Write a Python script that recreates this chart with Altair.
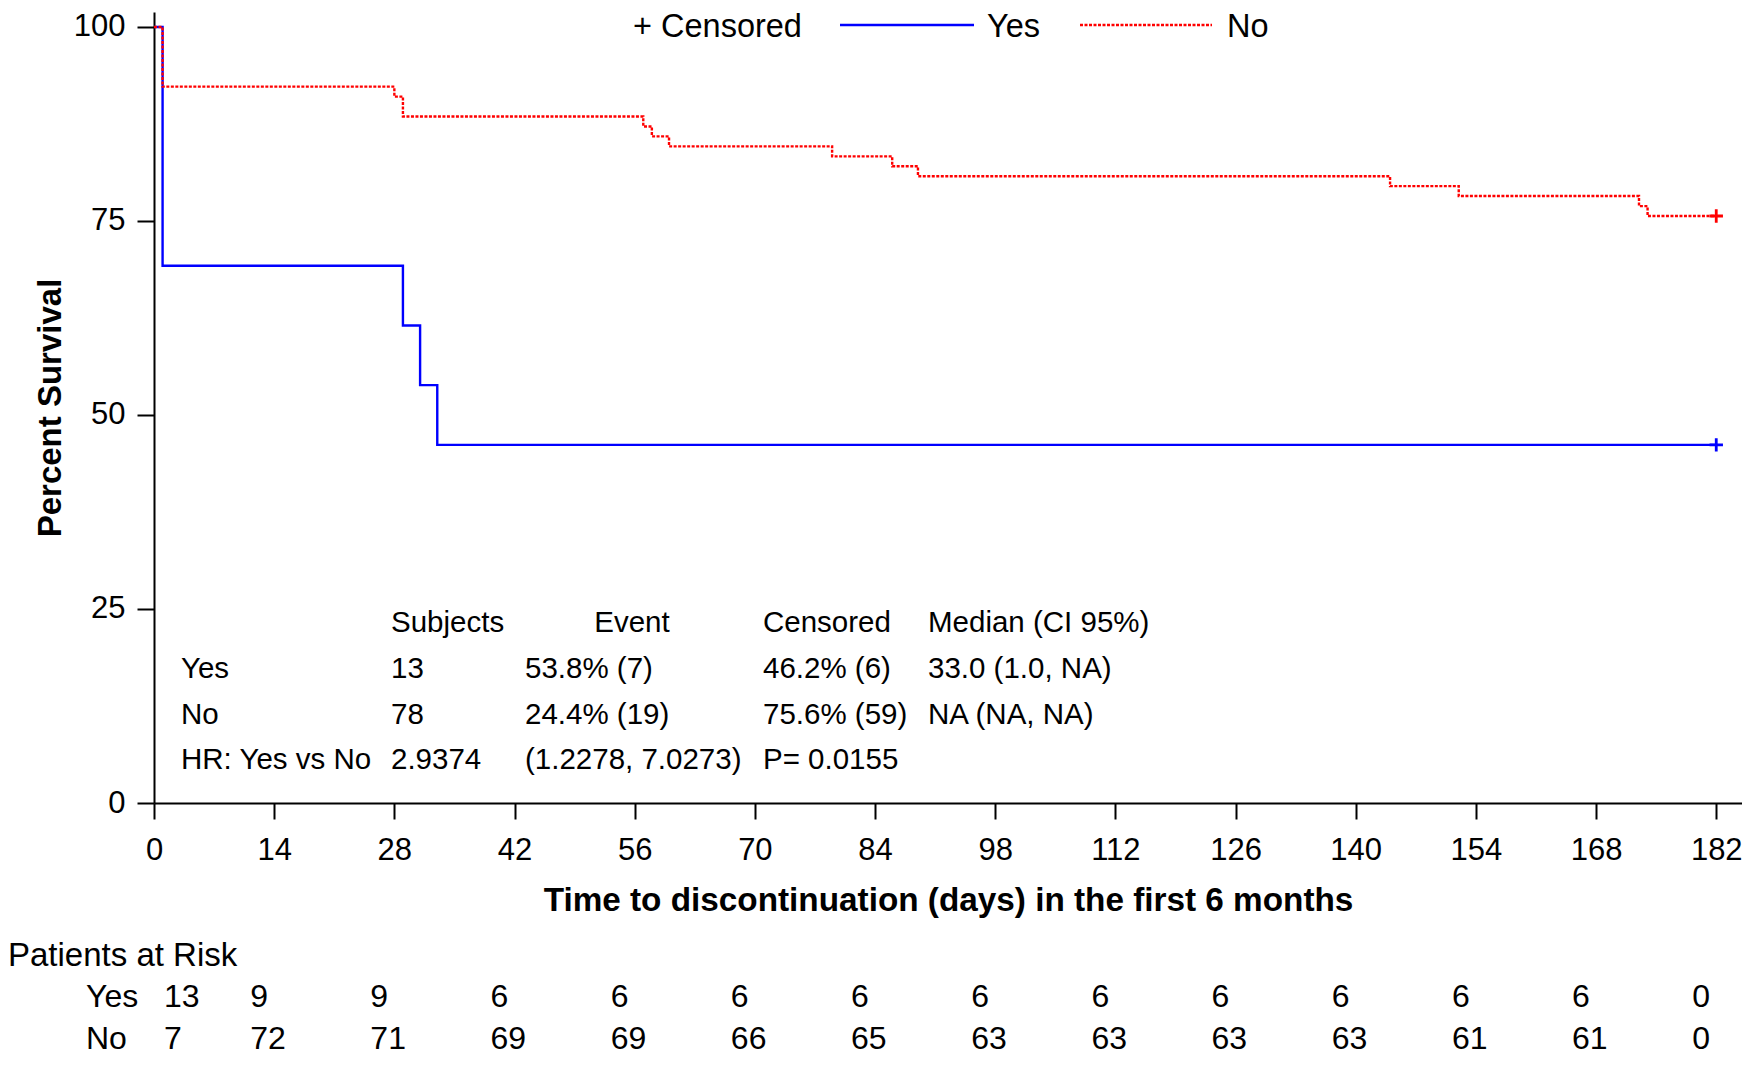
import altair as alt
import pandas as pd

FONT = "Liberation Sans"

# Kaplan-Meier step data
yes_time = [0, 1, 29, 31, 33, 182]
yes_surv = [100, 69.23, 61.54, 53.85, 46.15, 46.15]
no_time = [0, 1, 28, 29, 57, 58, 60, 79, 86, 89, 144, 152, 173, 174, 182]
no_surv = [100, 92.31, 91.03, 88.46, 87.18, 85.90, 84.62, 83.33, 82.05, 80.77,
           79.49, 78.21, 76.92, 75.64, 75.64]
censor_group = ["Yes", "No"]
censor_time = [182, 182]
censor_surv = [46.15, 75.64]

# Tick values / at-risk table
ticks = [0, 14, 28, 42, 56, 70, 84, 98, 112, 126, 140, 154, 168, 182]
risk_yes = [13, 9, 9, 6, 6, 6, 6, 6, 6, 6, 6, 6, 6, 0]
risk_no = [7, 72, 71, 69, 69, 66, 65, 63, 63, 63, 63, 61, 61, 0]

# Summary table text
stat_header = ["", "Subjects", "Event", "Censored", "Median (CI 95%)"]
stat_yes = ["Yes", "13", "53.8% (7)", "46.2% (6)", "33.0 (1.0, NA)"]
stat_no = ["No", "78", "24.4% (19)", "75.6% (59)", "NA (NA, NA)"]
stat_hr = ["HR: Yes vs No", "2.9374", "(1.2278, 7.0273)", "P= 0.0155", ""]

colors = {"Yes": "#0000FF", "No": "#FF0000"}

km = pd.concat([
    pd.DataFrame({"time": yes_time, "surv": yes_surv, "group": "Yes"}),
    pd.DataFrame({"time": no_time, "surv": no_surv, "group": "No"}),
])
cens = pd.DataFrame({"time": censor_time, "surv": censor_surv, "group": censor_group})

xscale = alt.Scale(domain=[0, 185], nice=False, zero=False)
yscale = alt.Scale(domain=[0, 101.93], nice=False)

xaxis = alt.Axis(values=ticks, title="Time to discontinuation (days) in the first 6 months",
                 labelFontSize=31, titleFontSize=33.3, titleFont=FONT, labelFont=FONT,
                 titleFontWeight="bold", tickSize=16, tickWidth=2, domainWidth=2,
                 domainColor="black", tickColor="black", labelColor="black",
                 titleColor="black", labelPadding=16, titlePadding=19.5, grid=False,
                 labelFlush=False)
yaxis = alt.Axis(values=[0, 25, 50, 75, 100], title="Percent Survival",
                 labelFontSize=31, titleFontSize=33, titleFont=FONT, labelFont=FONT,
                 titleFontWeight="bold", tickSize=17, tickWidth=2, domainWidth=2,
                 domainColor="black", tickColor="black", labelColor="black",
                 titleColor="black", labelPadding=12, titlePadding=6, grid=False)

yes_line = alt.Chart(km).transform_filter(alt.datum.group == "Yes").mark_line(
    interpolate="step-after", color=colors["Yes"], strokeWidth=2.4
).encode(x=alt.X("time:Q", scale=xscale, axis=xaxis),
         y=alt.Y("surv:Q", scale=yscale, axis=yaxis))
no_line = alt.Chart(km).transform_filter(alt.datum.group == "No").mark_line(
    interpolate="step-after", color=colors["No"], strokeWidth=2.4, strokeDash=[3, 1.5]
).encode(x="time:Q", y="surv:Q")

cross = "M-1,0L1,0M0,-1L0,1"
cens_pts = alt.Chart(cens).mark_point(shape=cross, size=180, filled=False, strokeWidth=2.8,
                                       opacity=1).encode(
    x="time:Q", y="surv:Q",
    color=alt.Color("group:N", scale=alt.Scale(domain=["Yes", "No"],
                                               range=[colors["Yes"], colors["No"]]),
                    legend=None))

layers = [yes_line, no_line, cens_pts]

def txt(s, x, y, size=31, align="left", weight="normal", color="black"):
    return alt.Chart(pd.DataFrame({"t": [s]})).mark_text(
        align=align, baseline="middle", font=FONT, fontSize=size,
        fontWeight=weight, color=color
    ).encode(x=alt.value(x), y=alt.value(y), text="t:N")

# Legend (pixel layout)
LEG_Y = 15
LEG_FS = 32.5
layers.append(txt("+ Censored", 479, LEG_Y, size=LEG_FS))
layers.append(alt.Chart(pd.DataFrame({"a": [0]})).mark_rule(color=colors["Yes"], strokeWidth=2.4).encode(
    x=alt.value(686), x2=alt.value(820), y=alt.value(LEG_Y - 2)))
layers.append(txt("Yes", 833, LEG_Y, size=LEG_FS))
layers.append(alt.Chart(pd.DataFrame({"a": [0]})).mark_rule(color=colors["No"], strokeWidth=2.4,
                                                            strokeDash=[3, 1.5]).encode(
    x=alt.value(926), x2=alt.value(1058), y=alt.value(LEG_Y - 2)))
layers.append(txt("No", 1073, LEG_Y, size=LEG_FS))

# Summary table (pixel layout)
col_x = [27, 237, 371, 609, 774]
row_y = [611, 657, 703, 748]
STAT_FS = 29.5
for r, row in enumerate([stat_header, stat_yes, stat_no, stat_hr]):
    for c, s in enumerate(row):
        if not s:
            continue
        if r == 0 and c == 2:
            layers.append(txt(s, 478, row_y[r], size=STAT_FS, align="center"))
        else:
            layers.append(txt(s, col_x[c], row_y[r], size=STAT_FS))

# Patients at risk table
risk = pd.DataFrame({"time": ticks, "yes": risk_yes, "no": risk_no})
RISK_TITLE_Y = 944
RY_YES = 985
RY_NO = 1027
RISK_FS = 32
layers.append(txt("Patients at Risk", -146, RISK_TITLE_Y, size=33))
layers.append(txt("Yes", -68, RY_YES, size=RISK_FS))
layers.append(txt("No", -68, RY_NO, size=RISK_FS))
for field, yy in [("yes", RY_YES), ("no", RY_NO)]:
    first = alt.Chart(risk).transform_filter(alt.datum.time == 0).mark_text(
        align="left", baseline="middle", font=FONT, fontSize=RISK_FS, color="black", dx=10
    ).encode(x="time:Q", y=alt.value(yy), text=f"{field}:Q")
    rest = alt.Chart(risk).transform_filter(alt.datum.time > 0).mark_text(
        align="left", baseline="middle", font=FONT, fontSize=RISK_FS, color="black", dx=-24
    ).encode(x="time:Q", y=alt.value(yy), text=f"{field}:Q")
    layers += [first, rest]

chart = alt.layer(*layers).properties(
    width=1588, height=791,
    padding={"left": 146, "top": 4, "right": 0, "bottom": 255},
    autosize=alt.AutoSizeParams(type="none"),
).configure(background="white", view=alt.ViewConfig(stroke=None))

chart.save("out.html", embed_options={"renderer": "svg", "actions": False})
